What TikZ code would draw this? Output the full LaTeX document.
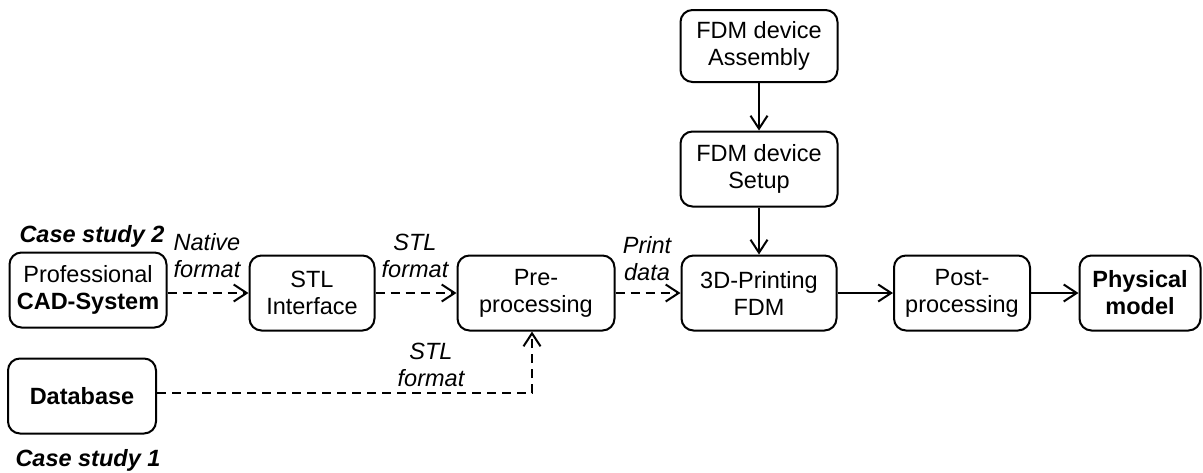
\documentclass[tikz,border=0pt]{standalone}
\usepackage{fontspec}
\setmainfont{Liberation Sans}
\usetikzlibrary{arrows.meta}
\usetikzlibrary{positioning}

\newcommand{\diagfont}{\fontsize{23.5}{27}\selectfont}

\tikzset{
  stepbox/.style={draw, line width=2pt, rounded corners=12pt, align=center,
    inner sep=0pt, minimum height=75pt},
  flow/.style={line width=2pt, -{Straight Barb[length=13pt,width=17pt]}},
  dataflow/.style={flow, dash pattern=on 9pt off 6pt},
  lbl/.style={font=\diagfont\itshape, align=center, inner sep=0pt},
  casetag/.style={font=\diagfont\bfseries\itshape, inner sep=0pt},
}

\begin{document}
\begin{tikzpicture}[x=1pt,y=-1pt, font=\diagfont]
    \useasboundingbox (0,0) rectangle (1203,472);
    % main row
    \node[stepbox, minimum width=157pt] (cad) at (88,290) {Professional\\\textbf{CAD-System}};
    \node[stepbox, minimum width=125pt] (stl) at (312,293) {STL\\Interface};
    \node[stepbox, minimum width=157pt] (pre) at (536,293) {Pre-\\processing};
    \node[stepbox, minimum width=155pt] (print) at (759,293) {3D-Printing\\FDM};
    \node[stepbox, minimum width=136pt] (post) at (962,293) {Post-\\processing};
    \node[stepbox, minimum width=121pt] (phys) at (1140,293) {\textbf{Physical}\\\textbf{model}};
    % device column
    \node[stepbox, minimum width=157pt, minimum height=72pt] (asm) at (759,46) {FDM device\\Assembly};
    \node[stepbox, minimum width=157pt] (setup) at (759,169) {FDM device\\Setup};
    % database
    \node[stepbox, minimum width=148pt] (db) at (82,396) {\textbf{Database}};
    \node[casetag] (case2) at (92,236) {Case study 2};
    \node[casetag] (case1) at (88,460) {Case study 1};
    % connectors
    \draw[dataflow] (cad.east |- stl) -- (stl.west);
    \draw[dataflow] (stl) -- (pre);
    \draw[dataflow] (pre) -- (print);
    \draw[dataflow] (db.east |- 0,393) -| ([xshift=-4pt]pre.south);
    \draw[flow] (print) -- (post);
    \draw[flow] (post) -- (phys);
    \draw[flow] (asm) -- (setup);
    \draw[flow] (setup) -- (print);
    % labels
    \node[lbl] (native) at (207,256) {Native\\format};
    \node[lbl] (stlfmt) at (415,256) {STL\\format};
    \node[lbl] (printdata) at (647,259) {Print\\data};
    \node[lbl] (dbfmt) at (431,365) {STL\\format};
\end{tikzpicture}
\end{document}
